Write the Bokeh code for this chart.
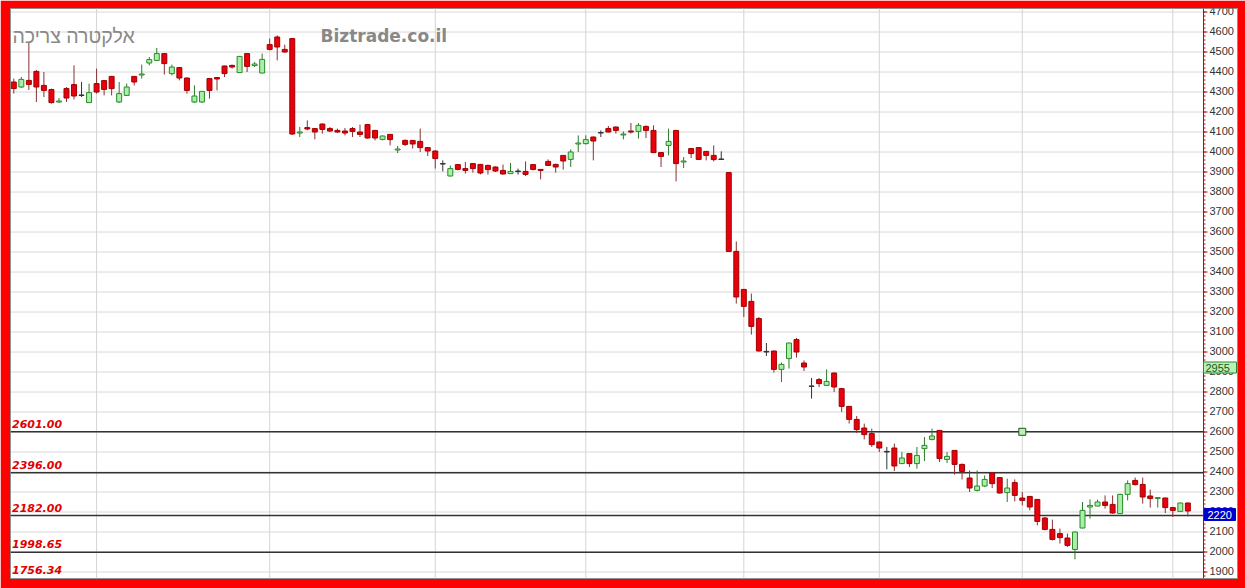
from bokeh.plotting import figure
from bokeh.core.properties import value
from bokeh.embed import file_html
from bokeh.resources import INLINE

# ---------------- data ----------------
opens = [4350, 4325, 4358, 4403, 4333, 4312, 4250, 4317, 4337, 4285,
         4247, 4342, 4357, 4378, 4250, 4283, 4378, 4385, 4445, 4458,
         4492, 4392, 4422, 4370, 4250, 4250, 4367, 4372, 4430, 4433,
         4397, 4492, 4432, 4395, 4537, 4575, 4513, 4567, 4095, 4122,
         4117, 4140, 4117, 4108, 4105, 4117, 4100, 4137, 4108, 4063,
         4088, 4010, 4058, 4058, 4053, 4022, 4005, 3942, 3880, 3937,
         3917, 3942, 3938, 3933, 3925, 3908, 3892, 3905, 3903, 3937,
         3913, 3953, 3938, 3983, 3963, 4040, 4042, 4075, 4097, 4117,
         4125, 4085, 4105, 4103, 4128, 4108, 3997, 4033, 4108, 3950,
         4017, 4022, 4003, 3983, 3963, 3897, 3503, 3313, 3253, 3167,
         3003, 3005, 2913, 2967, 3062, 2945, 2830, 2862, 2833, 2895,
         2817, 2728, 2663, 2620, 2592, 2550, 2503, 2520, 2442, 2492,
         2442, 2517, 2563, 2608, 2463, 2508, 2438, 2370, 2308, 2330,
         2395, 2372, 2297, 2347, 2270, 2278, 2263, 2170, 2113, 2092,
         2070, 2013, 2120, 2225, 2230, 2250, 2238, 2192, 2288, 2358,
         2338, 2280, 2268, 2270, 2222, 2203, 2245]
highs = [4367, 4375, 4550, 4410, 4400, 4317, 4270, 4325, 4433, 4350,
         4342, 4417, 4360, 4380, 4350, 4342, 4380, 4437, 4475, 4520,
         4495, 4437, 4425, 4372, 4333, 4305, 4370, 4375, 4432, 4437,
         4480, 4495, 4450, 4492, 4567, 4583, 4537, 4567, 4125, 4158,
         4120, 4142, 4125, 4117, 4120, 4125, 4137, 4140, 4110, 4083,
         4090, 4030, 4063, 4060, 4117, 4025, 4008, 3958, 3933, 3938,
         3950, 3945, 3940, 3937, 3928, 3937, 3945, 3917, 3953, 3938,
         3915, 3963, 3942, 3985, 4013, 4083, 4083, 4077, 4108, 4130,
         4127, 4103, 4145, 4145, 4133, 4133, 3998, 4117, 4110, 3975,
         4018, 4023, 4005, 4033, 4003, 3900, 3553, 3315, 3292, 3175,
         3045, 3007, 2947, 3047, 3070, 2958, 2870, 2870, 2913, 2897,
         2820, 2730, 2680, 2642, 2617, 2552, 2525, 2542, 2500, 2493,
         2525, 2575, 2617, 2610, 2500, 2510, 2442, 2408, 2408, 2383,
         2400, 2373, 2367, 2363, 2300, 2280, 2265, 2175, 2162, 2117,
         2092, 2102, 2250, 2263, 2262, 2283, 2283, 2292, 2358, 2372,
         2372, 2312, 2275, 2272, 2225, 2247, 2247]
lows = [4292, 4320, 4310, 4250, 4275, 4242, 4245, 4250, 4263, 4275,
        4245, 4292, 4283, 4283, 4245, 4280, 4333, 4367, 4433, 4455,
        4387, 4383, 4358, 4292, 4245, 4245, 4267, 4308, 4375, 4417,
        4395, 4400, 4425, 4393, 4508, 4458, 4497, 4085, 4075, 4108,
        4063, 4092, 4100, 4095, 4083, 4075, 4075, 4067, 4058, 4058,
        4033, 3995, 4030, 4017, 4000, 3980, 3917, 3903, 3878, 3908,
        3892, 3897, 3888, 3887, 3900, 3887, 3890, 3887, 3880, 3908,
        3863, 3930, 3897, 3912, 3925, 4000, 4037, 3958, 4075, 4098,
        4092, 4063, 4092, 4067, 4070, 3995, 3925, 3983, 3853, 3920,
        3970, 3962, 3958, 3953, 3960, 3500, 3242, 3175, 3087, 3003,
        2980, 2897, 2850, 2917, 2972, 2905, 2767, 2825, 2830, 2800,
        2700, 2642, 2595, 2563, 2525, 2500, 2413, 2405, 2440, 2425,
        2417, 2455, 2558, 2450, 2445, 2387, 2363, 2300, 2303, 2325,
        2320, 2292, 2250, 2253, 2233, 2208, 2133, 2108, 2058, 2042,
        2025, 1963, 2118, 2167, 2228, 2217, 2192, 2190, 2258, 2333,
        2242, 2222, 2222, 2195, 2175, 2200, 2178]
closes = [4317, 4363, 4338, 4325, 4308, 4247, 4255, 4270, 4280, 4283,
          4297, 4300, 4313, 4317, 4292, 4325, 4350, 4390, 4462, 4492,
          4442, 4425, 4370, 4308, 4280, 4303, 4308, 4365, 4392, 4425,
          4478, 4428, 4440, 4463, 4513, 4525, 4500, 4090, 4100, 4115,
          4100, 4113, 4105, 4100, 4095, 4103, 4088, 4070, 4070, 4080,
          4062, 4015, 4038, 4040, 4022, 4005, 3967, 3940, 3917, 3913,
          3908, 3917, 3895, 3912, 3905, 3890, 3903, 3902, 3888, 3913,
          3908, 3933, 3925, 3955, 4000, 4045, 4062, 4055, 4095, 4100,
          4108, 4090, 4100, 4133, 4108, 3997, 3978, 4053, 3942, 3955,
          3992, 3963, 3983, 3962, 3965, 3503, 3275, 3228, 3128, 3005,
          3000, 2913, 2938, 3045, 3000, 2925, 2828, 2842, 2853, 2825,
          2728, 2663, 2612, 2587, 2537, 2520, 2500, 2430, 2470, 2442,
          2483, 2533, 2580, 2467, 2478, 2438, 2403, 2320, 2330, 2363,
          2342, 2295, 2320, 2283, 2258, 2225, 2153, 2113, 2063, 2072,
          2033, 2100, 2208, 2233, 2250, 2233, 2195, 2288, 2342, 2337,
          2275, 2267, 2272, 2222, 2208, 2245, 2205]

month_starts = [11, 34, 56, 76, 97, 115, 134, 154]     # vertical grid positions (bar index)
tick_values = list(range(1900, 4800, 100))
tick_labels = [str(t) for t in tick_values]
minor_values = list(range(1880, 4720, 20))
levels = [2601.00, 2396.00, 2182.00, 1998.65]
level_texts = ["2601.00", "2396.00", "2182.00", "1998.65"]
floor_text = "1756.34"
signal_bar = 134
signal_price = 2601.00
side_labels = ["2955", "2220"]
side_label_y = [2922.5, 2187.5]
title_he = "אלקטרה צריכה"
title_site = "Biztrade.co.il"

# ---------------- geometry ----------------
W, H = 1245, 588
LEFT, RIGHT, TOP, BOTTOM = 10, 8, 8, 10
PX = 7.526                     # pixels per bar
X0 = -0.4385                   # data x at frame left
FRAME_W = W - LEFT - RIGHT
X1 = X0 + FRAME_W / PX
XA = X0 + 1193 / PX            # price-axis line (data x)
Y0, Y1 = 1867.5, 4717.5

def px(n):
    return n / PX

# ---------------- derived drawing table ----------------
xs = list(range(len(opens)))
tops, bots, fills, lines, wicks = [], [], [], [], []
for o, c in zip(opens, closes):
    tops.append(max(o, c))
    bots.append(min(o, c))
    if abs(o - c) <= 3:
        fills.append("#333333"); lines.append("#333333"); wicks.append("#333333")
    elif c > o:
        fills.append("#a8f0a8"); lines.append("#2a8a2a"); wicks.append("#2a7a2a")
    else:
        fills.append("#e8000c"); lines.append("#a00000"); wicks.append("#8a3030")

p = figure(width=W, height=H, output_backend="svg", toolbar_location=None,
           x_range=(X0, X1), y_range=(Y0, Y1),
           x_axis_location=None, y_axis_location=None,
           min_border_left=LEFT, min_border_right=RIGHT,
           min_border_top=TOP, min_border_bottom=BOTTOM,
           background_fill_color="white", border_fill_color="#ff0000",
           outline_line_color="#909090")
p.grid.visible = False

# horizontal dotted grid (stops at the price axis)
grid_y = [t for t in tick_values if Y0 < t < Y1]
p.segment(x0=[X0] * len(grid_y), x1=[XA] * len(grid_y), y0=grid_y, y1=grid_y,
          line_color="#b0b0b0", line_dash="1 1", line_width=1)
# vertical grid
p.segment(x0=month_starts, x1=month_starts, y0=[Y0] * len(month_starts),
          y1=[Y1] * len(month_starts), line_color="#d4d4d4", line_width=1)

# level lines
p.segment(x0=[X0] * len(levels), x1=[XA] * len(levels), y0=levels, y1=levels,
          line_color="#333333", line_width=1.5)

# candles
p.segment(x0=xs, x1=xs, y0=lows, y1=highs, line_color=wicks, line_width=1)
p.vbar(x=xs, top=tops, bottom=bots, width=0.66, fill_color=fills, line_color=lines,
       line_width=1)

# signal marker
p.scatter(x=[signal_bar], y=[signal_price], marker="square", size=7,
          fill_color="#b8f0b8", line_color="#225522", line_width=1)

# price axis drawn at the right of the chart area
p.segment(x0=[XA], x1=[XA], y0=[Y0], y1=[Y1], line_color="#cc0000", line_width=1)
p.segment(x0=[XA] * len(minor_values), x1=[XA + px(2)] * len(minor_values),
          y0=minor_values, y1=minor_values, line_color="#cc0000", line_width=1)
p.segment(x0=[XA] * len(tick_values), x1=[XA + px(4)] * len(tick_values),
          y0=tick_values, y1=tick_values, line_color="#cc0000", line_width=1)
p.text(x=[XA + px(6)] * len(tick_values), y=tick_values, text=tick_labels,
       text_baseline="middle", text_align="left", text_font=value("Liberation Sans"),
       text_font_size="11px", text_color="#333333", y_offset=-1)

# level labels
p.text(x=[X0 + px(1.5)] * len(levels), y=levels, text=level_texts, text_baseline="middle",
       text_align="left", text_font=value("DejaVu Sans"), text_font_style="bold italic",
       text_font_size="11px", text_color="#e00000", y_offset=-8)
p.text(x=[X0 + px(1.5)], y=[Y0 + 45], text=[floor_text], text_baseline="middle",
       text_align="left", text_font=value("DejaVu Sans"), text_font_style="bold italic",
       text_font_size="11px", text_color="#e00000")

# titles
p.text(x=[X0 + px(2)], y=[4580], text=[title_he], text_baseline="middle", text_align="left",
       text_font=value("Liberation Sans"), text_font_size="19.5px", text_color="#888888")
p.text(x=[X0 + px(310)], y=[4580], text=[title_site], text_baseline="middle",
       text_align="left", text_font=value("DejaVu Sans"), text_font_style="bold",
       text_font_size="17px", text_color="#888888")

# side value boxes on the price axis
p.rect(x=[XA + px(16.5)], y=[side_label_y[0]], width=33, height=11,
       width_units="screen", height_units="screen",
       fill_color="#b8f0b8", line_color="#2a8a2a", line_width=1)
p.rect(x=[XA + px(16.5)], y=[side_label_y[1]], width=31, height=12,
       width_units="screen", height_units="screen",
       fill_color="#0000cc", line_color="#0000cc", line_width=1)
p.text(x=[XA + px(2)], y=[side_label_y[0]], text=[side_labels[0]], text_baseline="middle",
       text_align="left", text_font=value("Liberation Sans"), text_font_size="11px",
       text_color="#1a5a1a")
p.text(x=[XA + px(4)], y=[side_label_y[1]], text=[side_labels[1]], text_baseline="middle",
       text_align="left", text_font=value("Liberation Sans"), text_font_size="11px",
       text_color="white")

open("out.html", "w").write(file_html(p, INLINE))
